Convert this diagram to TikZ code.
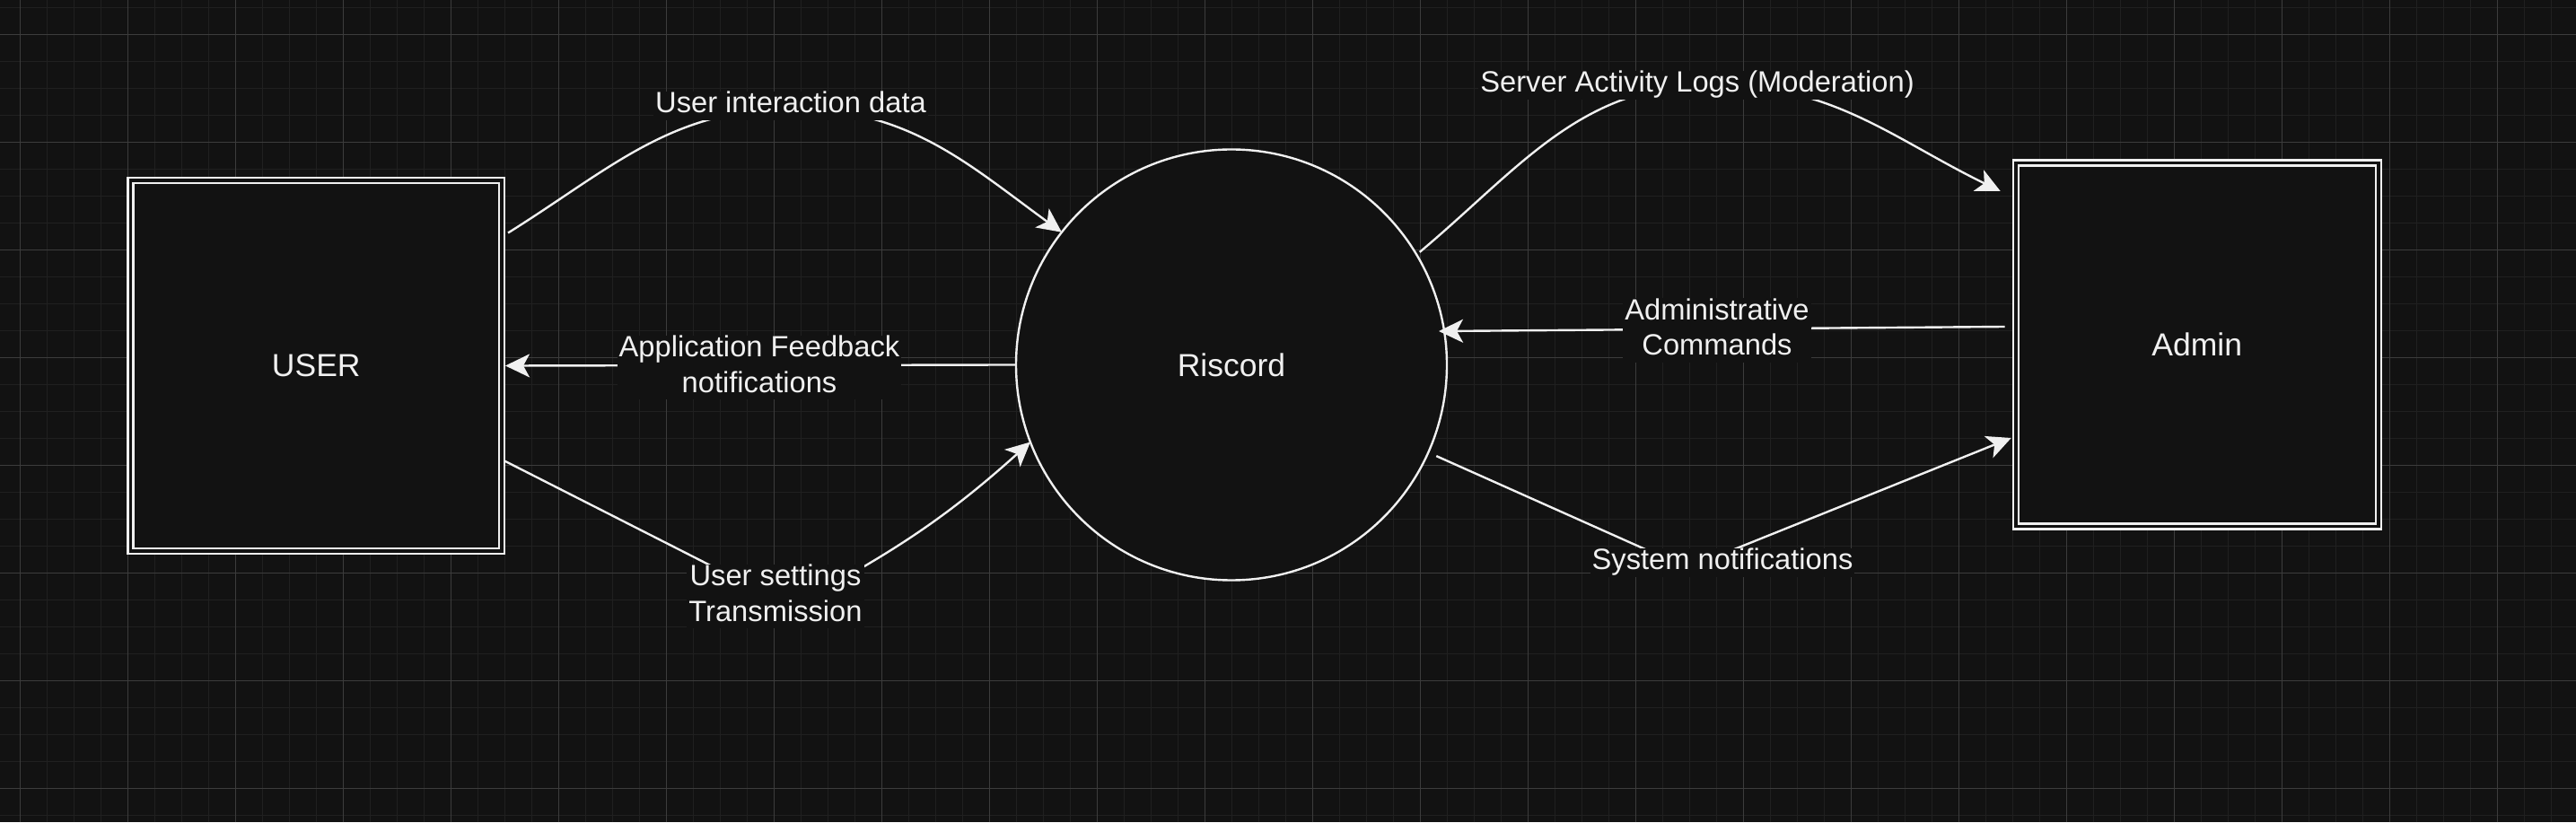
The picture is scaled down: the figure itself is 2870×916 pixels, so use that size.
\documentclass[tikz,border=0pt]{standalone}
\usepackage{fontspec}
\setmainfont{Liberation Sans}
\usepackage{xcolor}
\usetikzlibrary{arrows.meta}

\definecolor{bgcol}{HTML}{121212}
\definecolor{linecol}{HTML}{F0F0F0}
\definecolor{txtcol}{HTML}{F0F0F0}
\definecolor{minorcol}{HTML}{202020}
\definecolor{majorcol}{HTML}{3C3C3C}

\newcommand\boxfont{\fontsize{35.5}{42.6}\selectfont}
\newcommand\flowfont{\fontsize{32.7}{39.2}\selectfont}
\newcommand\lstrut{\rule[-8pt]{0pt}{32pt}}

\tikzset{
    entity/.style={draw=linecol, line width=2.2pt, double=bgcol, double distance=3.8pt, fill=bgcol,
        inner sep=0pt, outer sep=0pt, text=txtcol, font=\boxfont},
    process/.style={circle, draw=linecol, line width=2.4pt, fill=bgcol, minimum size=480pt,
        inner sep=0pt, outer sep=0pt, text=txtcol, font=\boxfont},
    flow/.style={draw=linecol, line width=2.4pt, -{Stealth[length=27pt,width=26pt,inset=7pt]}},
    flowlabel/.style={fill=bgcol, text=txtcol, font=\flowfont, align=center, inner xsep=2pt, inner ysep=0pt},
    gridminor/.style={draw=minorcol, line width=1.5pt},
    gridmajor/.style={draw=majorcol, line width=1pt}
}

\begin{document}
\begin{tikzpicture}[x=1pt,y=1pt]
    \fill[bgcol] (0,0) rectangle (2870,916);
    \useasboundingbox (0,0) rectangle (2870,916);
    \foreach \i in {0,...,96} \draw[gridminor] ({-7.7+30*\i},0) -- ({-7.7+30*\i},916);
    \foreach \j in {0,...,30} \draw[gridminor] (0,{907.7-30*\j}) -- (2870,{907.7-30*\j});
    \foreach \i in {0,...,23} \draw[gridmajor] ({22.3+120*\i},0) -- ({22.3+120*\i},916);
    \foreach \j in {0,...,7} \draw[gridmajor] (0,{877.7-120*\j}) -- (2870,{877.7-120*\j});

    \node[entity, minimum width=413.5pt, minimum height=413pt] (user) at (352.3,508.5) {USER};
    \node[process] (riscord) at (1372,509.5) {Riscord};
    \node[entity, minimum width=404pt, minimum height=405pt] (admin) at (2447.7,532) {Admin};

    \coordinate (c1) at (883,795);
    \coordinate (c3) at (882,240);
    \coordinate (c4) at (1908,822);
    \coordinate (c6) at (1880,283);

    \draw[flow] ([xshift=7pt,yshift=148pt]user.east) to[out=32,in=180] (c1) to[out=0,in=144] (riscord.142);
    \draw[flow] (riscord.west) -- ([xshift=4pt]user.east);
    \draw[flow] ([xshift=3pt,yshift=-106pt]user.east) -- (c3) to[out=28,in=-138] (riscord.201);
    \draw[flow] ([xshift=4pt,yshift=2pt]riscord.31.5) to[out=40,in=180] (c4) to[out=0,in=154] ([xshift=-17pt,yshift=171pt]admin.west);
    \draw[flow, shorten >=-6pt] ([xshift=-12pt,yshift=20pt]admin.west) -- (riscord.9);
    \draw[flow] ([xshift=9pt,yshift=-4pt]riscord.-24) -- (c6) -- ([xshift=-5pt,yshift=-104pt]admin.west);

    \node[flowlabel] (l1) at (881,798) {\lstrut User interaction data};
    \node[flowlabel] (l2) at (846,506.5) {\lstrut Application Feedback\\\lstrut notifications};
    \node[flowlabel] (l3) at (864,251.5) {\lstrut User settings\\\lstrut Transmission};
    \node[flowlabel] (l4) at (1891,821) {\lstrut Server Activity Logs (Moderation)};
    \node[flowlabel] (l5) at (1913,548) {\lstrut Administrative\\\lstrut Commands};
    \node[flowlabel] (l6) at (1919,289) {\lstrut System notifications};
\end{tikzpicture}
\end{document}
